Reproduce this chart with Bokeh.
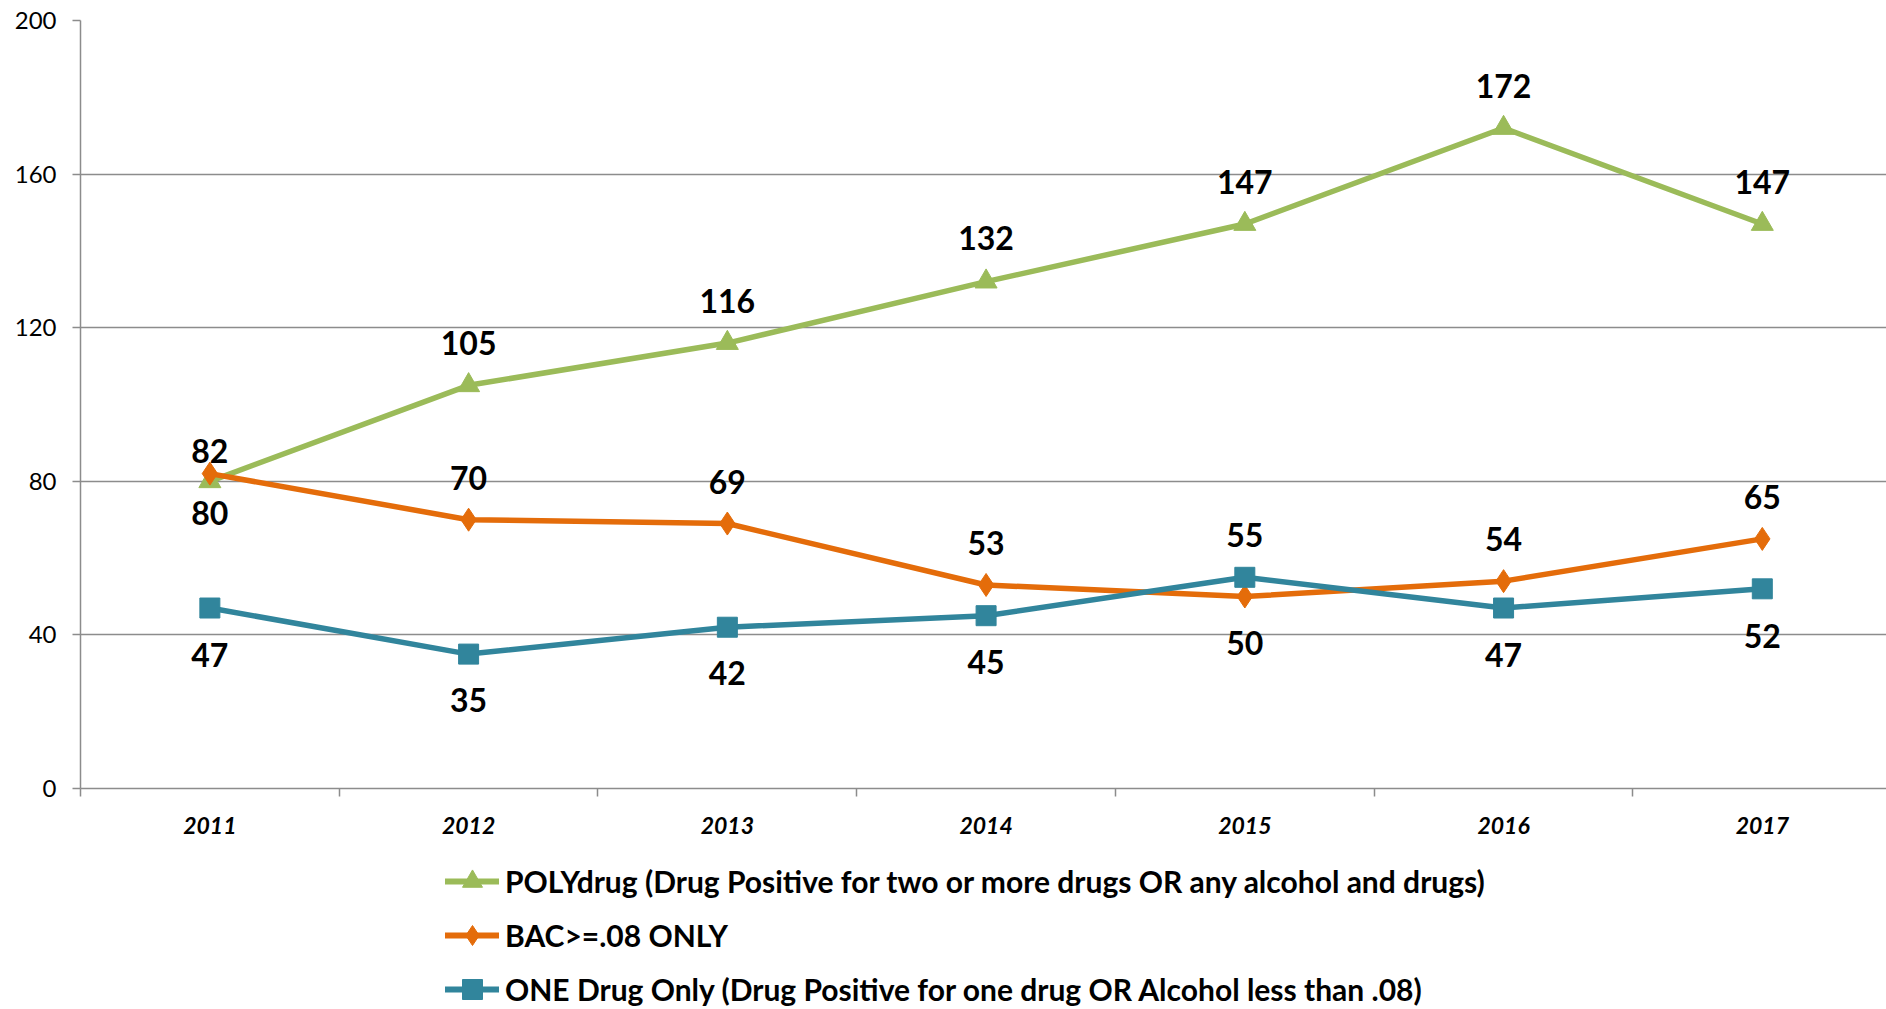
import numpy as np
from bokeh.plotting import figure
from bokeh.layouts import column
from bokeh.models import (ColumnDataSource, FixedTicker, Legend, LegendItem,
                          Range1d, LabelSet)
from bokeh.core.properties import value
from bokeh.embed import file_html
from bokeh.resources import INLINE

# ---- data ----
years = ["2011", "2012", "2013", "2014", "2015", "2016", "2017"]
poly = [80, 105, 116, 132, 147, 172, 147]
bac = [82, 70, 69, 53, 50, 54, 65]
one = [47, 35, 42, 45, 55, 47, 52]
y_ticks = [0, 40, 80, 120, 160, 200]
series_names = [
    "POLYdrug (Drug Positive for two or more drugs OR any alcohol and drugs)",
    "BAC>=.08 ONLY",
    "ONE Drug Only (Drug Positive for one drug OR Alcohol less than .08)",
]

# ---- styling (label placement in screen px, + = above) ----
poly_off = [-32, 42, 42, 44, 42, 42, 42]
bac_off = [23, 42, 42, 42, -46, 42, 42]
one_off = [-47, -46, -46, -46, 42, -47, -47]
colors = ["#9BBB59", "#E46C0A", "#31859C"]
FONT = "Lato"
GRID = "#8c8c8c"

x = list(np.arange(len(years)) + 0.5)

p = figure(width=1886, height=857, output_backend="svg", toolbar_location=None,
           x_range=Range1d(0, 6.98), y_range=Range1d(0, 200),
           min_border_left=80, min_border_right=0, min_border_top=20,
           min_border_bottom=69)
p.outline_line_color = None
p.background_fill_color = "white"
p.border_fill_color = "white"

# grid
p.xgrid.grid_line_color = None
p.ygrid.ticker = FixedTicker(ticks=y_ticks)
p.ygrid.grid_line_color = GRID
p.ygrid.grid_line_width = 1.5

# y axis
p.yaxis.ticker = FixedTicker(ticks=y_ticks)
p.yaxis.axis_line_color = GRID
p.yaxis.axis_line_width = 1.5
p.yaxis.major_tick_line_color = GRID
p.yaxis.major_tick_line_width = 1.5
p.yaxis.major_tick_out = 8
p.yaxis.major_tick_in = 0
p.yaxis.minor_tick_line_color = None
p.yaxis.major_label_text_font = FONT
p.yaxis.major_label_text_font_size = "24px"
p.yaxis.major_label_text_color = "black"
p.yaxis.major_label_standoff = 16

# x axis
p.xaxis.ticker = FixedTicker(ticks=x, minor_ticks=list(range(len(years) + 1)))
p.xaxis.major_label_overrides = {float(xi): yr for xi, yr in zip(x, years)}
p.xaxis.axis_line_color = GRID
p.xaxis.axis_line_width = 1.5
p.xaxis.major_tick_line_color = None
p.xaxis.major_tick_out = 0
p.xaxis.major_tick_in = 0
p.xaxis.minor_tick_line_color = GRID
p.xaxis.minor_tick_line_width = 1.5
p.xaxis.minor_tick_out = 8
p.xaxis.minor_tick_in = 0
p.xaxis.major_label_text_font = FONT
p.xaxis.major_label_text_font_size = "23px"
p.xaxis.major_label_text_font_style = "bold italic"
p.xaxis.major_label_text_color = "black"
p.xaxis.major_label_standoff = 20

# legend figure (below the chart)
lf = figure(width=1886, height=152, output_backend="svg", toolbar_location=None,
            x_range=Range1d(100, 101), y_range=Range1d(1000, 1001),
            min_border_left=0, min_border_right=0, min_border_top=0,
            min_border_bottom=0, x_axis_location=None, y_axis_location=None)
lf.outline_line_color = None
lf.grid.visible = False
lf.background_fill_color = "white"
lf.border_fill_color = "white"

items = []
specs = [
    (poly, poly_off, "triangle", 22),
    (bac, bac_off, "diamond", 23),
    (one, one_off, "square", 20),
]
for (vals, offs, marker, size), col, name in zip(specs, colors, series_names):
    src = ColumnDataSource(dict(x=x, y=vals, t=[str(v) for v in vals], off=offs))
    p.line("x", "y", source=src, line_color=col, line_width=5.5, line_join="round")
    p.scatter("x", "y", source=src, marker=marker, size=size,
              fill_color=col, line_color=col)
    labels = LabelSet(x="x", y="y", text="t", y_offset="off", source=src,
                      text_align="center", text_baseline="middle",
                      text_font=value(FONT), text_font_style="bold",
                      text_font_size="32px", text_color="black")
    p.add_layout(labels)
    # legend swatches (same series, drawn out of the legend figure's view)
    lr = lf.line("x", "y", source=src, line_color=col, line_width=6,
                 line_cap="round")
    sr = lf.scatter("x", "y", source=src, marker=marker, size=size,
                    fill_color=col, line_color=col)
    items.append(LegendItem(label=name, renderers=[lr, sr]))

legend = Legend(items=items, location=(365, -5), orientation="vertical",
                padding=0, margin=0, spacing=4, glyph_width=54, glyph_height=50,
                label_height=50, label_standoff=6, border_line_color=None,
                background_fill_alpha=0, label_text_font=FONT,
                label_text_font_style="bold", label_text_font_size="30px",
                label_text_color="black")
lf.add_layout(legend, "center")

layout = column(p, lf, spacing=0)
open("out.html", "w").write(file_html(layout, INLINE))
